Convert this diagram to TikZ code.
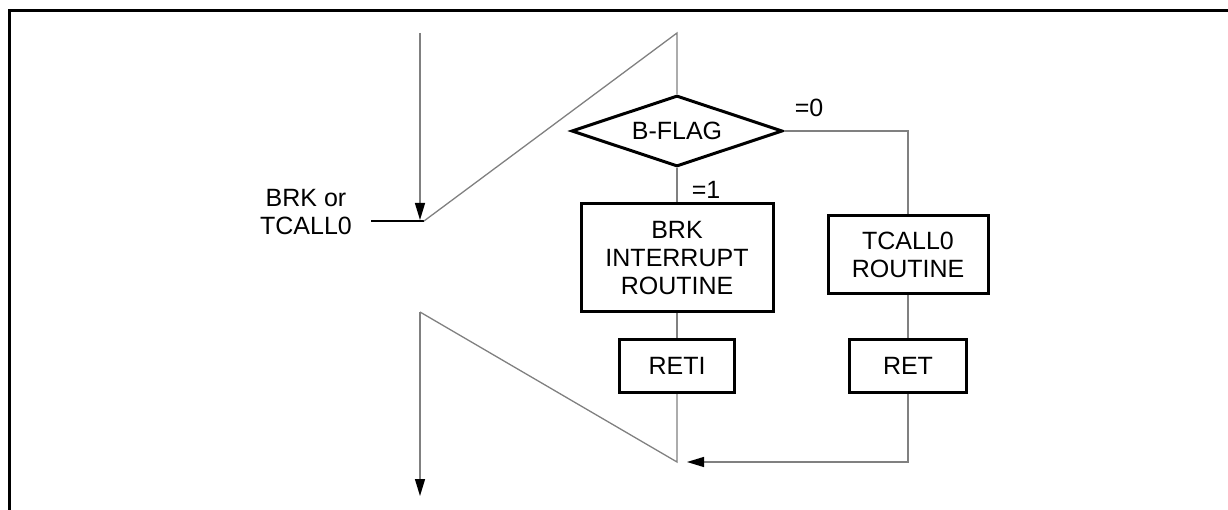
\documentclass[tikz,border=0pt]{standalone}
\usepackage{fontspec}
\setmainfont{Liberation Sans}
\usetikzlibrary{arrows.meta,shapes.geometric}

\begin{document}
\begin{tikzpicture}[x=1pt, y=-1pt,
    every node/.style={font=\fontsize{25}{28}\selectfont},
    box/.style={draw, line width=3pt, align=center, inner sep=0pt},
    flow/.style={draw=gray, line width=1.3pt},
    arrowed/.style={-{Triangle[length=17pt, width=10pt, color=black]}},
]
\useasboundingbox (0,0) rectangle (1228,510);
\draw[line width=3pt] (9,510) -- (9,11) -- (1228,11);

\node[box, shape=diamond, aspect=3, minimum width=211pt, minimum height=71pt] (flag) at (677,131) {B-FLAG};
\node[box, minimum width=192pt, minimum height=108pt] (brk) at (677,258) {BRK\\INTERRUPT\\ROUTINE};
\node[box, minimum width=160pt, minimum height=78pt] (tcall) at (908,255) {TCALL0\\ROUTINE};
\node[box, minimum width=115pt, minimum height=53pt] (reti) at (677,366) {RETI};
\node[box, minimum width=117pt, minimum height=53pt] (ret) at (908,366) {RET};
\node[align=center, inner sep=0pt] (src) at (306,212) {BRK or\\TCALL0};
\node (zero) at (809,108) {=0};
\node (one) at (706,190) {=1};

\coordinate (in) at (420,33);
\coordinate (gatein) at (420,220);
\coordinate (gatew) at (371,221);
\coordinate (gatee) at (424,221);
\coordinate (top) at (677,33);
\coordinate (join) at (677,462);
\coordinate (back) at (687,462);
\coordinate (out) at (420,312);
\coordinate (exit) at (420,496);

\draw[flow, arrowed] (in) -- (gatein);
\draw[line width=2pt] (gatew) -- (gatee);
\draw[flow] (gatee) -- (top) -- (flag.north);
\draw[flow] (flag.south) -- (brk.north);
\draw[flow] (flag.east) -| (tcall.north);
\draw[flow] (brk) -- (reti);
\draw[flow] (tcall) -- (ret);
\draw[flow] (reti) -- (join) -- (out);
\draw[flow, arrowed] (out) -- (exit);
\draw[flow, arrowed] (ret) |- (back);
\end{tikzpicture}
\end{document}
